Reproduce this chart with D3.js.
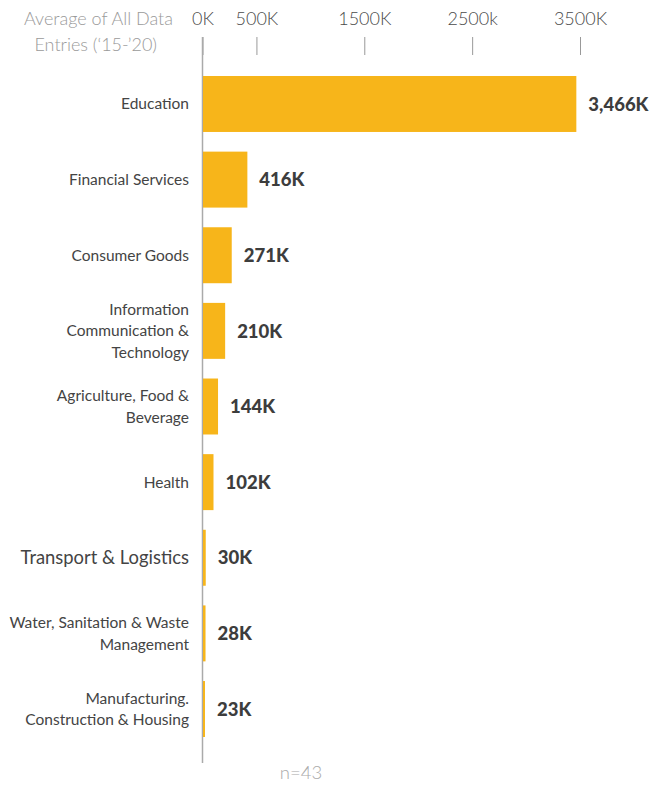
<!DOCTYPE html>
<html>
<head>
<meta charset="utf-8">
<script src="https://cdn.jsdelivr.net/npm/d3@7"></script>
<style>
  html, body { margin: 0; padding: 0; background: #fff; }
  svg { display: block; font-family: Lato, "Open Sans", sans-serif; }
</style>
</head>
<body>
<svg id="chart" width="664" height="785"></svg>
<script>
// Sector names (line-broken as displayed) and average values in thousands
const categories = [
  ["Education"],
  ["Financial Services"],
  ["Consumer Goods"],
  ["Information", "Communication &", "Technology"],
  ["Agriculture, Food &", "Beverage"],
  ["Health"],
  ["Transport & Logistics"],
  ["Water, Sanitation & Waste", "Management"],
  ["Manufacturing.", "Construction & Housing"]
];
const values = [3466, 416, 271, 210, 144, 102, 30, 28, 23];
const valueLabels = ["3,466K", "416K", "271K", "210K", "144K", "102K", "30K", "28K", "23K"];
const tickValues = [0, 500, 1500, 2500, 3500];
const tickLabels = ["0K", "500K", "1500K", "2500k", "3500K"];
const titleLines = ["Average of All Data", "Entries (\u201815-\u201920)"];
const footnote = "n=43";

const svg = d3.select("#chart");
const barColor = "#F7B51A";

const x = d3.scaleLinear().domain([0, 3500]).range([202.5, 580]);
const y = d3.scaleBand()
  .domain(d3.range(values.length))
  .range([76, 737])
  .paddingInner(0.26)
  .paddingOuter(0);

// Top axis with tick labels
const axis = d3.axisTop(x)
  .tickValues(tickValues)
  .tickSize(18)
  .tickPadding(12)
  .tickFormat((d, i) => tickLabels[i]);

const gAxis = svg.append("g").attr("transform", "translate(0,55)").call(axis);
gAxis.select(".domain").remove();
gAxis.selectAll(".tick line").attr("stroke", "#999").attr("stroke-width", 1);
gAxis.selectAll(".tick text")
  .attr("fill", "#4a4a4a")
  .style("font-size", "18px")
  .style("font-weight", 300)
  .style("font-family", "Lato, sans-serif");

// Baseline at zero
svg.append("line")
  .attr("x1", x(0)).attr("x2", x(0))
  .attr("y1", 37).attr("y2", 763)
  .attr("stroke", "#aaa").attr("stroke-width", 1.5);

// Axis title
svg.append("text")
  .attr("text-anchor", "end")
  .attr("fill", "#9a9a9a")
  .style("font-size", "18px")
  .style("font-weight", 300)
  .selectAll("tspan")
  .data(titleLines)
  .join("tspan")
  .attr("x", (d, i) => i === 0 ? 173 : 157)
  .attr("y", (d, i) => 25 + i * 26)
  .text(d => d);

// Bars
svg.append("g").selectAll("rect")
  .data(values)
  .join("rect")
  .attr("x", x(0) + 0.5)
  .attr("y", (d, i) => y(i))
  .attr("width", d => Math.max(0, x(d) - x(0) - 0.5))
  .attr("height", y.bandwidth())
  .attr("fill", barColor);

// Value labels
svg.append("g").selectAll("text")
  .data(values)
  .join("text")
  .attr("x", d => x(d) + 12)
  .attr("y", (d, i) => y(i) + y.bandwidth() / 2)
  .attr("dy", "0.36em")
  .attr("fill", "#3d3d3d")
  .style("font-size", "18.5px")
  .style("font-weight", 900)
  .text((d, i) => valueLabels[i]);

// Category labels
const lineH = 21.5;
svg.append("g").selectAll("text")
  .data(categories)
  .join("text")
  .attr("text-anchor", "end")
  .attr("fill", "#444")
  .style("font-size", (d, i) => i === 6 ? "18.4px" : "15.5px")
  .each(function(lines, i) {
    const cy = y(i) + y.bandwidth() / 2;
    const start = cy - (lines.length - 1) * lineH / 2;
    d3.select(this).selectAll("tspan")
      .data(lines)
      .join("tspan")
      .attr("x", 189)
      .attr("y", (d, j) => start + j * lineH)
      .attr("dy", "0.35em")
      .text(d => d);
  });

// Sample size note
svg.append("text")
  .attr("x", 301).attr("y", 779)
  .attr("text-anchor", "middle")
  .attr("fill", "#aaa")
  .style("font-size", "18.5px")
  .style("font-weight", 300)
  .text(footnote);
</script>
</body>
</html>
